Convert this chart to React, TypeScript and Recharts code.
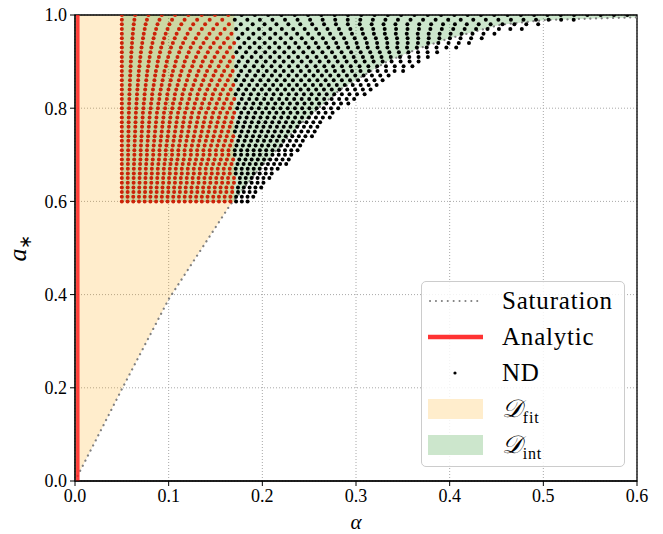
import React from "react";
import {
    Area,
    CartesianGrid,
    ComposedChart,
    Line,
    ReferenceArea,
    Scatter,
    XAxis,
    YAxis,
} from "recharts";

// saturation curve
const satAlpha = [0, 0.05, 0.1, 0.1655, 0.1975, 0.24, 0.283, 0.333, 0.368, 0.4, 0.454, 0.5, 0.546, 0.6];
const satSpin = [0, 0.197, 0.39, 0.592, 0.671, 0.765, 0.84, 0.9, 0.929, 0.95, 0.979, 0.989, 0.992, 0.995];

// fit domain (orange) and interpolation domain (green)
const fitAlpha = [0, 0.05, 0.1, 0.1655, 0.17];
const fitLow = [0, 0.197, 0.39, 0.592, 0.6];
const intAlpha = [0.05, 0.17, 0.1975, 0.24, 0.283, 0.333, 0.368, 0.4, 0.454, 0.5, 0.546, 0.6];
const intLow = [0.6, 0.6, 0.671, 0.765, 0.84, 0.9, 0.929, 0.95, 0.979, 0.989, 0.992, 0.995];

const analyticAlpha = 0.003;

// ND grid rows: spin, alpha spacing along the row, last alpha of the row
const ndSpin = [
    0.6, 0.61, 0.62, 0.63, 0.64, 0.65, 0.66, 0.67, 0.68, 0.69, 0.7, 0.71, 0.72, 0.73, 0.74, 0.75, 0.76, 0.77, 0.78, 0.79, 0.8,
    0.81, 0.82, 0.83, 0.84, 0.85, 0.86, 0.87, 0.88, 0.89, 0.9, 0.91, 0.92, 0.93, 0.94, 0.95, 0.96, 0.97, 0.98, 0.99, 1.0,
];
const ndStep = [
    0.0061, 0.0061, 0.0062, 0.0062, 0.0063, 0.0063, 0.0064, 0.0064, 0.0065, 0.0066, 0.0067, 0.0067, 0.0068, 0.0069, 0.007,
    0.0071, 0.0072, 0.0073, 0.0074, 0.0075, 0.0077, 0.0078, 0.008, 0.0081, 0.0083, 0.0085, 0.0087, 0.0089, 0.0091, 0.0094,
    0.0096, 0.0099, 0.0102, 0.0105, 0.0109, 0.0113, 0.0117, 0.0122, 0.0127, 0.0134, 0.0142,
];
const ndEdge = [
    0.187, 0.191, 0.195, 0.2, 0.205, 0.21, 0.215, 0.221, 0.226, 0.231, 0.236, 0.241, 0.245, 0.249, 0.253, 0.258, 0.263, 0.268,
    0.273, 0.279, 0.286, 0.294, 0.302, 0.31, 0.318, 0.326, 0.334, 0.343, 0.353, 0.362, 0.372, 0.383, 0.394, 0.407, 0.422, 0.44,
    0.458, 0.477, 0.505, 0.545, 0.6,
];
const ndStart = 0.05;
const fitEdge = 0.17;

const xTicks = [0, 0.1, 0.2, 0.3, 0.4, 0.5, 0.6];
const yTicks = [0, 0.2, 0.4, 0.6, 0.8, 1.0];

const satData = satAlpha.map((x, i) => ({ x, y: satSpin[i] }));
const fitData = fitAlpha.map((x, i) => ({ x, range: [fitLow[i], 1] }));
const intData = intAlpha.map((x, i) => ({ x, range: [intLow[i], 1] }));
const analyticData = [
    { x: analyticAlpha, y: 0 },
    { x: analyticAlpha, y: 1 },
];

const redDots: { x: number; y: number }[] = [];
const blackDots: { x: number; y: number }[] = [];
ndSpin.forEach((a, i) => {
    for (let k = 0; ; k++) {
        const x = ndStart + k * ndStep[i];
        if (x > ndEdge[i] + 1e-9 || x > 0.6) break;
        (x <= fitEdge + 1e-9 ? redDots : blackDots).push({ x, y: a });
    }
});

const FONT = "'Liberation Serif', 'Times New Roman', serif";

const dot = (color: string) => (p: any) => <circle cx={p.cx} cy={p.cy} r={2} fill={color} />;

const legendRows = [
    { key: "sat", y: 301 },
    { key: "ana", y: 337 },
    { key: "nd", y: 373 },
    { key: "fit", y: 409 },
    { key: "int", y: 445 },
];

function LegendBox() {
    const left = 421;
    const top = 281;
    return (
        <div
            style={{
                position: "absolute",
                left,
                top,
                width: 204,
                height: 186,
                border: "1px solid #cccccc",
                borderRadius: 5,
                background: "rgba(255,255,255,0.85)",
                boxSizing: "border-box",
                fontFamily: FONT,
                fontSize: 25,
                color: "#000",
            }}
        >
            <svg width={204} height={186} style={{ position: "absolute", left: -1, top: -1 }}>
                {legendRows.map((r) => {
                    const cy = r.y - top;
                    if (r.key === "sat")
                        return (
                            <line key={r.key} x1={9} x2={61} y1={cy} y2={cy} stroke="#808080" strokeWidth={2}
                                strokeDasharray="0.1 5.8" strokeLinecap="round" />
                        );
                    if (r.key === "ana")
                        return <line key={r.key} x1={7} x2={62} y1={cy} y2={cy} stroke="#ff3333" strokeWidth={4.5} />;
                    if (r.key === "nd") return <circle key={r.key} cx={34} cy={cy} r={1.6} fill="#000" />;
                    return (
                        <rect key={r.key} x={7} y={cy - 10} width={55} height={20}
                            fill={r.key === "fit" ? "#ffedcc" : "#cce6cc"} />
                    );
                })}
            </svg>
            {legendRows.map((r) => (
                <div key={r.key} style={{ position: "absolute", left: 80, top: r.y - top - 16, lineHeight: "30px", whiteSpace: "nowrap", letterSpacing: 0.8 }}>
                    {r.key === "sat" && "Saturation"}
                    {r.key === "ana" && "Analytic"}
                    {r.key === "nd" && "ND"}
                    {r.key === "fit" && (
                        <span>
                            <span style={{ fontStyle: "italic" }}>𝒟</span>
                            <sub style={{ fontSize: 16 }}>fit</sub>
                        </span>
                    )}
                    {r.key === "int" && (
                        <span>
                            <span style={{ fontStyle: "italic" }}>𝒟</span>
                            <sub style={{ fontSize: 16 }}>int</sub>
                        </span>
                    )}
                </div>
            ))}
        </div>
    );
}

export default function App() {
    const tickStyle = { fontFamily: FONT, fontSize: 18, fill: "#000" };
    return (
        <div style={{ position: "absolute", left: 0, top: 0, width: 663, height: 534, background: "#fff", overflow: "hidden" }}>
            <ComposedChart width={663} height={534} margin={{ top: 15, right: 26, left: 15, bottom: 23 }}>
                <XAxis
                    type="number"
                    dataKey="x"
                    domain={[0, 0.6]}
                    ticks={xTicks}
                    allowDataOverflow
                    height={30}
                    tick={tickStyle}
                    tickFormatter={(v: number) => v.toFixed(1)}
                    tickSize={5}
                    tickMargin={3}
                    stroke="#000"
                />
                <YAxis
                    type="number"
                    domain={[0, 1]}
                    ticks={yTicks}
                    allowDataOverflow
                    width={60}
                    tick={tickStyle}
                    tickFormatter={(v: number) => v.toFixed(1)}
                    tickSize={5}
                    tickMargin={3}
                    stroke="#000"
                />
                <Area data={fitData} dataKey="range" type="linear" stroke="none" fill="#ffa500" fillOpacity={0.2}
                    isAnimationActive={false} />
                <Area data={intData} dataKey="range" type="linear" stroke="none" fill="#008000" fillOpacity={0.2}
                    isAnimationActive={false} />
                <CartesianGrid stroke="#a8a8a8" strokeDasharray="1 2" strokeWidth={1} />
                <Scatter data={redDots} dataKey="y" shape={dot("#cc2208")} isAnimationActive={false} />
                <Scatter data={blackDots} dataKey="y" shape={dot("#000")} isAnimationActive={false} />
                <Line data={satData} dataKey="y" type="linear" stroke="#808080" strokeWidth={2.2}
                    strokeDasharray="0.1 5.6" strokeLinecap="round" dot={false} isAnimationActive={false} />
                <Line data={analyticData} dataKey="y" type="linear" stroke="#ff2020" strokeOpacity={0.85} strokeWidth={3.5}
                    dot={false} isAnimationActive={false} />
                <ReferenceArea x1={0} x2={0.6} y1={0} y2={1} fill="none" stroke="#000" strokeWidth={1.3} ifOverflow="visible" />
            </ComposedChart>
            <svg width={663} height={534} style={{ position: "absolute", left: 0, top: 0, pointerEvents: "none" }}>
                <text x={356} y={529} textAnchor="middle" fontFamily={FONT} fontStyle="italic" fontSize={21}>α</text>
                <text transform="translate(26 248) rotate(-90)" textAnchor="middle" fontFamily={FONT} fontSize={26}>
                    <tspan fontStyle="italic">a</tspan>
                    <tspan fontSize={17} dy={5}>∗</tspan>
                </text>
            </svg>
            <LegendBox />
        </div>
    );
}
